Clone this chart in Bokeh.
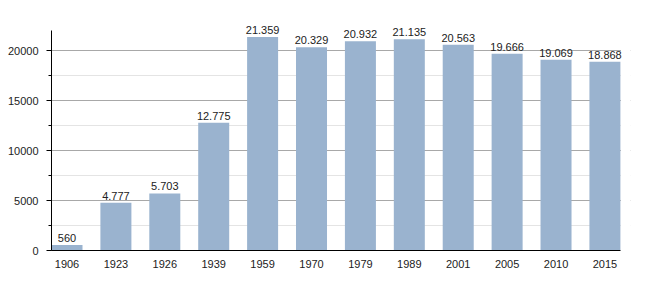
from bokeh.plotting import figure
from bokeh.models import ColumnDataSource, Range1d, FixedTicker, SingleIntervalTicker, LabelSet, BoxAnnotation
from bokeh.core.properties import value
from bokeh.embed import file_html
from bokeh.resources import INLINE

years = ["1906", "1923", "1926", "1939", "1959", "1970", "1979", "1989", "2001", "2005", "2010", "2015"]
population = [560, 4777, 5703, 12775, 21359, 20329, 20932, 21135, 20563, 19666, 19069, 18868]
labels = [f"{v:,}".replace(",", ".") for v in population]

xs = list(range(len(years)))
src = ColumnDataSource(dict(x=xs, top=population, label=labels))

FONT = "Liberation Sans"
HALF = 0.317
x_lo, x_hi = -HALF, len(years) - 1 + HALF

p = figure(width=650, height=300, output_backend="svg", toolbar_location=None,
           x_range=Range1d(x_lo, x_hi + 0.206), y_range=Range1d(0, 24000),
           min_border_left=51, min_border_right=20, min_border_top=10, min_border_bottom=50)
p.outline_line_color = None
p.background_fill_color = "white"

p.vbar(x="x", top="top", width=2 * HALF, source=src, fill_color="#9ab3cf", line_color=None)

# hide grid lines beyond the last bar (frame is wider only to leave room for the last label)
p.add_layout(BoxAnnotation(left=x_hi + 0.01, fill_color="white", fill_alpha=1.0,
                           line_color=None, level="glyph"))

p.add_layout(LabelSet(x="x", y="top", text="label", source=src, text_align="center",
                      text_baseline="bottom", y_offset=3, text_font=value(FONT),
                      text_font_size=value("11px"), text_color=value("#222222")))

# x axis
p.xaxis.ticker = FixedTicker(ticks=xs)
p.xaxis.bounds = (x_lo, x_hi)
p.xaxis.major_label_overrides = {i: y for i, y in enumerate(years)}
p.xaxis.major_tick_line_color = None
p.xaxis.minor_tick_line_color = None
p.xaxis.axis_line_color = "black"
p.xaxis.axis_line_width = 1
p.xaxis.major_label_text_font = FONT
p.xaxis.major_label_text_font_size = "11px"
p.xaxis.major_label_text_color = "#222222"
p.xaxis.major_label_standoff = 3
p.xgrid.grid_line_color = None

# y axis
p.yaxis.ticker = SingleIntervalTicker(interval=5000, num_minor_ticks=2)
p.yaxis.bounds = (0, 22000)
p.yaxis.axis_line_color = "black"
p.yaxis.major_tick_in = 0
p.yaxis.major_tick_out = 5
p.yaxis.minor_tick_in = 0
p.yaxis.minor_tick_out = 3
p.yaxis.major_label_text_font = FONT
p.yaxis.major_label_text_font_size = "11px"
p.yaxis.major_label_text_color = "#222222"
p.yaxis.major_label_standoff = 8
p.ygrid.bounds = (0, 22000)
p.ygrid.grid_line_color = "#a8a8a8"
p.ygrid.minor_grid_line_color = "#e4e4e4"

open("out.html", "w").write(file_html(p, INLINE))
